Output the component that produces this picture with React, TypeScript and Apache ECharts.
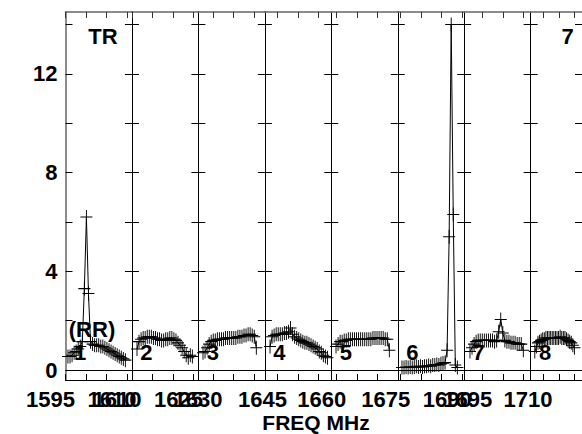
import React, { useEffect, useRef } from "react";
import * as echarts from "echarts";

// ---- data -------------------------------------------------------------
// Frequency range of each sub-band panel (MHz)
const panelStarts = [1595, 1610, 1626.44, 1641.91, 1658.68, 1674.28, 1690.49, 1706.09];
const panelSpan = 16.2;
// first channel frequency per panel and channel spacing (MHz)
const firstChannel = [1595.6, 1611.23, 1627.56, 1643.17, 1659.83, 1675.31, 1691.9, 1707.4];
const channelStep = 0.5;

const panel1 = [0.55, 0.55, 0.6, 0.7, 0.75, 0.85, 0.95, 1.15, 3.3, 6.2, 3.1, 1.15, 1.05, 1.0, 1.0, 1.0, 0.95, 0.95, 0.9, 0.85, 0.8, 0.75, 0.7, 0.65, 0.6, 0.55, 0.5, 0.45, 0.4];
const panel2 = [0.85, 1.15, 1.25, 1.3, 1.3, 1.35, 1.35, 1.35, 1.3, 1.3, 1.25, 1.25, 1.2, 1.2, 1.25, 1.25, 1.3, 1.3, 1.25, 1.2, 1.1, 1.0, 0.9, 0.75, 0.6, 0.5, 0.6, 0.55];
const panel3 = [0.7, 0.75, 0.9, 1.05, 1.15, 1.2, 1.2, 1.25, 1.25, 1.25, 1.25, 1.3, 1.3, 1.3, 1.3, 1.3, 1.3, 1.35, 1.35, 1.35, 1.4, 1.4, 1.45, 1.45, 1.4, 1.35, 0.9];
const panel4 = [0.95, 1.35, 1.4, 1.45, 1.45, 1.45, 1.45, 1.5, 1.5, 1.55, 1.7, 1.45, 1.35, 1.3, 1.25, 1.2, 1.15, 1.1, 1.1, 1.05, 1.0, 0.95, 0.9, 0.85, 0.75, 0.7, 0.6, 0.55, 0.5];
const panel5 = [0.95, 1.05, 1.15, 1.15, 1.2, 1.2, 1.25, 1.25, 1.25, 1.25, 1.25, 1.25, 1.25, 1.25, 1.25, 1.25, 1.25, 1.25, 1.3, 1.3, 1.3, 1.3, 1.3, 1.3, 1.25, 1.25, 0.8];
const panel6 = [0.1, 0.1, 0.12, 0.1, 0.12, 0.1, 0.12, 0.15, 0.12, 0.15, 0.12, 0.15, 0.15, 0.18, 0.15, 0.2, 0.2, 0.22, 0.2, 0.25, 0.28, 0.3, 0.8, 5.4, 14.0, 6.3, 0.2, 0.1];
const panel7 = [0.75, 0.9, 1.05, 1.15, 1.2, 1.2, 1.2, 1.2, 1.2, 1.2, 1.2, 1.2, 1.15, 1.2, 1.55, 2.05, 1.5, 1.2, 1.15, 1.15, 1.1, 1.1, 1.1, 1.05, 1.05, 1.05, 0.8];
const panel8 = [0.75, 0.95, 1.1, 1.15, 1.2, 1.25, 1.25, 1.3, 1.3, 1.3, 1.3, 1.3, 1.3, 1.3, 1.3, 1.3, 1.35, 1.3, 1.3, 1.3, 1.25, 1.2, 1.15, 1.1, 1.0, 0.9];
const panelValues = [panel1, panel2, panel3, panel4, panel5, panel6, panel7, panel8];

const xLabels = [[1595, 1610], [1610, 1625], [1630], [1645], [1660], [1675, 1690], [1695], [1710]];
const yTicks = [0, 2, 4, 6, 8, 10, 12, 14];
const yLabels = [0, 4, 8, 12];
const panelNames = ["1", "2", "3", "4", "5", "6", "7", "8"];
const yMin = -0.405;
const yMax = 14.51;

// ---- layout -------------------------------------------------------------
const GRID_LEFT = 65.5;
const GRID_W = 66.45;
const GRID_TOP = 12;
const GRID_H = 368;
const FONT = "'Liberation Sans', Arial, Helvetica, sans-serif";

export default function App() {
  const ref = useRef<HTMLDivElement>(null);

  useEffect(() => {
    const chart = echarts.init(ref.current!, null, { renderer: "svg" });
    const grids: any[] = [];
    const xAxes: any[] = [];
    const yAxes: any[] = [];
    const series: any[] = [];
    const axisLine = { show: true, onZero: false, lineStyle: { color: "#000", width: 1 } };
    const greyLine = { show: true, onZero: false, lineStyle: { color: "#666", width: 1.5 } };
    const labelFont = { fontFamily: FONT, fontWeight: "bold", fontSize: 22, color: "#000" };

    panelStarts.forEach((start, i) => {
      const end = start + panelSpan;
      grids.push({ left: GRID_LEFT + GRID_W * i, top: GRID_TOP, width: GRID_W, height: GRID_H });
      const ticks: number[] = [];
      for (let f = Math.ceil(start / 5) * 5; f <= end; f += 5) ticks.push(f);

      xAxes.push({
        gridIndex: i, type: "value", position: "bottom", min: start, max: end,
        axisLine,
        axisTick: { show: true, inside: true, length: 6, customValues: ticks, lineStyle: { color: "#000" } },
        axisLabel: {
          show: true, customValues: xLabels[i], ...labelFont, margin: 8,
          padding: [0, 30, 0, 0], formatter: (v: number) => String(Math.round(v)),
        },
        splitLine: { show: false },
      });
      xAxes.push({
        gridIndex: i, type: "value", position: "top", min: start, max: end,
        axisLine: greyLine,
        axisTick: { show: true, inside: true, length: 6, customValues: ticks, lineStyle: { color: "#333" } },
        axisLabel: { show: false },
        splitLine: { show: false },
      });
      yAxes.push({
        gridIndex: i, type: "value", position: "left", min: yMin, max: yMax,
        axisLine: i === 0 ? greyLine : axisLine,
        axisTick: { show: true, inside: true, length: 7, customValues: yTicks, lineStyle: { color: "#000" } },
        axisLabel: i === 0
          ? { show: true, customValues: yLabels, ...labelFont, margin: 8 }
          : { show: false },
        splitLine: { show: false },
      });
      yAxes.push({
        gridIndex: i, type: "value", position: "right", min: yMin, max: yMax,
        axisLine,
        axisTick: { show: true, inside: true, length: 7, customValues: yTicks, lineStyle: { color: "#000" } },
        axisLabel: { show: false },
        splitLine: { show: false },
      });

      series.push({
        type: "line",
        xAxisIndex: 2 * i,
        yAxisIndex: 2 * i,
        data: panelValues[i].map((v, k) => [firstChannel[i] + k * channelStep, v]),
        symbol: "path://M5,0L5,10M0,5L10,5",
        symbolSize: [12, 14],
        showSymbol: true,
        showAllSymbol: true,
        clip: false,
        itemStyle: { color: "#000", borderColor: "#000", borderWidth: 1 },
        lineStyle: { color: "#000", width: 1 },
        emphasis: { disabled: true },
        markLine: {
          silent: true,
          symbol: ["none", "none"],
          label: { show: false },
          lineStyle: { color: "#000", width: 1, type: "solid" },
          data: [{ yAxis: 0 }],
        },
      });
    });

    const textEl = (text: string, x: number, y: number, size = 22) => ({
      type: "text", x, y, silent: true,
      style: {
        text, fill: "#000", font: `bold ${size}px ${FONT}`,
        textAlign: "center", textVerticalAlign: "middle",
      },
    });

    const graphic: any[] = panelNames.map((n, i) => textEl(n, GRID_LEFT + GRID_W * i + 14.5, 352));
    graphic.push(textEl("(RR)", 92, 329));
    graphic.push(textEl("TR", 103, 36.5));
    graphic.push(textEl("7", 567.5, 36.5));
    graphic.push(textEl("FREQ MHz", 316, 422.5, 21));

    chart.setOption({
      animation: false,
      backgroundColor: "#fff",
      grid: grids,
      xAxis: xAxes,
      yAxis: yAxes,
      series,
      graphic,
    });
    return () => chart.dispose();
  }, []);

  return (
    <div
      ref={ref}
      style={{ position: "fixed", left: 0, top: 0, width: 582, height: 434, background: "#fff" }}
    />
  );
}
